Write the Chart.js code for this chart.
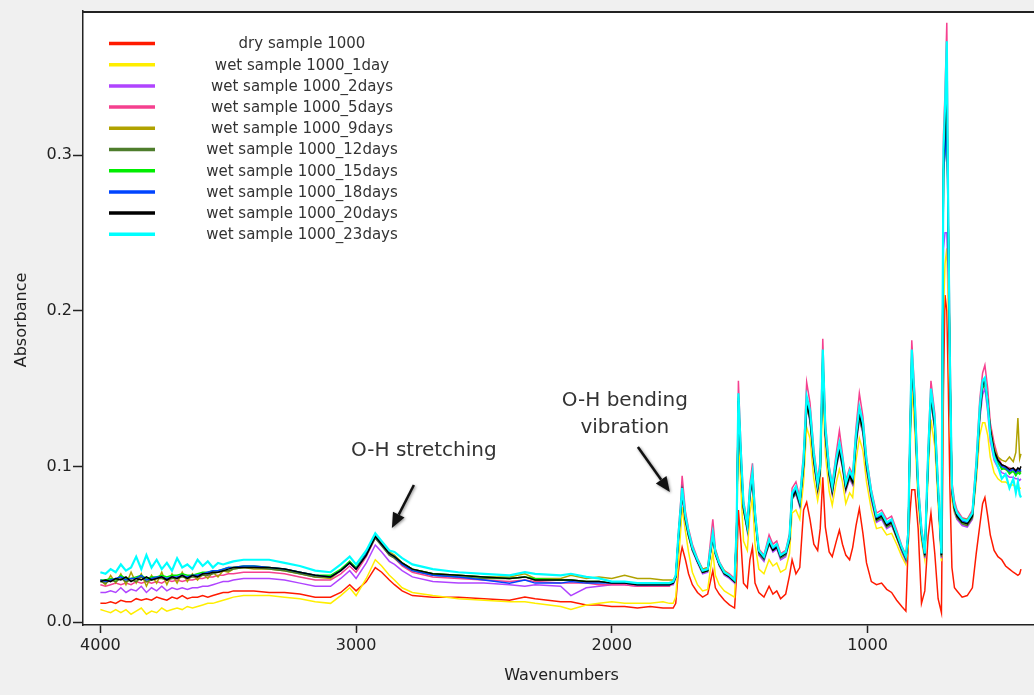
<!DOCTYPE html>
<html>
<head>
<meta charset="utf-8">
<script src="https://cdn.jsdelivr.net/npm/chart.js@4"></script>
<style>
  html, body { margin: 0; padding: 0; background: #f0f0f0; overflow: hidden; }
  canvas { display: block; }
</style>
</head>
<body>
<canvas id="espectro" width="1034" height="695"></canvas>
<script>
// wavenumber grid shared by every spectrum (cm-1)
const wavenumbers = [
    4000, 3980, 3960, 3940, 3920, 3900, 3880, 3860, 3840, 3820,
    3800, 3780, 3760, 3740, 3720, 3700, 3680, 3660, 3640, 3620,
    3600, 3580, 3560, 3540, 3520, 3500, 3480, 3440, 3400, 3340,
    3280, 3220, 3160,
    3100, 3060, 3025, 3000, 2960, 2925, 2900, 2870, 2850, 2820,
    2780, 2700, 2600, 2500, 2400, 2340, 2300, 2200, 2160, 2100,
    2050, 2000, 1950, 1900, 1850, 1800, 1775,
    1760, 1750, 1740, 1730, 1725, 1712, 1700, 1685, 1665, 1645,
    1625, 1605, 1595, 1580, 1560, 1540, 1520, 1512, 1505, 1495,
    1485, 1470, 1460, 1450, 1440, 1425, 1405, 1385, 1370, 1355,
    1340, 1320, 1305, 1295, 1280, 1265, 1250, 1238, 1225, 1210,
    1195, 1185, 1175, 1165, 1150, 1138, 1122, 1110, 1098, 1085,
    1070, 1058, 1045, 1032, 1018, 1004, 985, 965, 945, 925,
    906, 886, 866, 850, 841, 834, 827, 815, 802, 789,
    776, 763, 752, 737, 724, 711, 703, 697, 690, 684,
    678, 670, 660, 650, 630, 610, 590, 575, 561, 550,
    541, 530, 520, 505, 490, 475, 460, 445, 430, 420,
    412, 405, 400
];

const drySample = [
    .012, .012, .013, .012, .014, .013, .013, .015, .014, .015,
    .014, .016, .015, .014, .016, .015, .017, .015, .016, .016,
    .017, .016, .017, .018, .019, .019, .020, .020, .020, .019,
    .019, .018, .016,
    .016, .019, .024, .020, .026, .035, .032, .027, .024, .020,
    .017, .016, .016, .015, .014, .016, .015, .013, .013, .011,
    .011, .010, .010, .009, .010, .009, .009,
    .009, .012, .032, .044, .048, .040, .031, .024, .019, .016,
    .018, .033, .022, .018, .014, .011, .009, .030, .072, .051,
    .025, .022, .040, .048, .025, .019, .016, .023, .018, .020,
    .015, .018, .030, .040, .031, .035, .072, .077, .066, .050,
    .046, .060, .093, .061, .045, .042, .052, .059, .050, .043,
    .040, .048, .062, .073, .057, .038, .026, .024, .025, .021,
    .019, .014, .010, .007, .050, .070, .085, .085, .060, .012,
    .020, .055, .070, .044, .015, .006, .150, .210, .200, .150,
    .087, .035, .022, .020, .016, .017, .022, .044, .062, .076,
    .080, .068, .056, .046, .042, .040, .036, .034, .032, .031,
    .030, .031, .034
];

const wet1day = [
    .008, .007, .006, .008, .006, .008, .005, .007, .009, .005,
    .007, .006, .009, .007, .008, .009, .008, .010, .009, .010,
    .011, .012, .012, .013, .014, .015, .016, .017, .017, .017,
    .016, .015, .013,
    .012, .017, .022, .017, .028, .040, .036, .030, .027, .022,
    .019, .017, .015, .014, .013, .013, .012, .010, .008, .011,
    .012, .013, .012, .012, .012, .013, .012,
    .012, .016, .038, .060, .074, .058, .045, .032, .024, .020,
    .021, .045, .030, .024, .020, .018, .016, .045, .125, .085,
    .052, .046, .070, .080, .050, .034, .031, .040, .036, .038,
    .032, .034, .044, .070, .072, .066, .090, .125, .118, .092,
    .078, .088, .150, .108, .084, .075, .090, .098, .090, .076,
    .083, .080, .104, .118, .110, .090, .072, .060, .061, .056,
    .057, .050, .042, .037, .050, .105, .150, .122, .076, .052,
    .040, .094, .130, .113, .076, .039, .200, .230, .240, .200,
    .140, .078, .070, .066, .063, .062, .066, .090, .120, .128,
    .128, .120, .106, .096, .092, .090, .090, .088, .088, .087,
    .087, .086, .086
];

const wet2days = [
    .019, .019, .020, .019, .022, .019, .021, .020, .023, .019,
    .022, .020, .023, .020, .022, .021, .022, .021, .022, .022,
    .023, .023, .024, .025, .026, .026, .027, .028, .028, .028,
    .027, .025, .023,
    .023, .028, .033, .028, .038, .0495, .045, .039, .037, .033,
    .029, .026, .025, .025, .024, .023, .024, .023, .017, .022,
    .023, .024, .024, .023, .024, .024, .024,
    .024, .028, .051, .071, .081, .064, .055, .046, .038, .031,
    .032, .054, .043, .036, .030, .028, .025, .056, .140, .102,
    .072, .058, .080, .091, .066, .043, .039, .050, .045, .047,
    .040, .042, .052, .079, .082, .074, .099, .138, .129, .102,
    .084, .095, .166, .118, .093, .082, .099, .109, .099, .084,
    .092, .088, .113, .130, .121, .098, .078, .064, .066, .060,
    .062, .054, .045, .039, .054, .112, .165, .133, .082, .055,
    .041, .102, .142, .123, .082, .041, .240, .250, .250, .220,
    .150, .082, .071, .066, .062, .061, .066, .094, .130, .146,
    .150, .135, .116, .104, .099, .096, .095, .093, .093, .092,
    .092, .091, .092
];

const wet5days = [
    .024, .023, .024, .025, .024, .025, .024, .026, .025, .026,
    .025, .026, .025, .027, .026, .027, .026, .027, .027, .028,
    .028, .029, .029, .030, .030, .031, .031, .032, .032, .032,
    .031, .029, .027,
    .027, .031, .036, .032, .042, .054, .049, .043, .041, .036,
    .032, .029, .028, .027, .026, .027, .026, .025, .025, .025,
    .024, .024, .024, .023, .023, .023, .023,
    .025, .030, .057, .079, .094, .071, .060, .050, .041, .034,
    .035, .066, .047, .039, .033, .031, .028, .063, .155, .112,
    .078, .064, .089, .102, .072, .047, .043, .056, .050, .052,
    .044, .046, .057, .086, .090, .080, .109, .154, .141, .111,
    .091, .104, .182, .129, .100, .089, .109, .123, .108, .091,
    .099, .095, .125, .147, .132, .106, .085, .070, .072, .066,
    .068, .059, .049, .043, .059, .124, .181, .146, .090, .061,
    .045, .112, .155, .134, .090, .045, .313, .340, .385, .267,
    .183, .090, .078, .072, .067, .066, .072, .104, .143, .160,
    .165, .150, .128, .115, .106, .101, .100, .099, .098, .098,
    .097, .097, .097
];

const wet9days = [
    .027, .024, .030, .025, .031, .024, .032, .025, .031, .023,
    .030, .025, .032, .024, .031, .025, .032, .026, .031, .027,
    .031, .028, .032, .029, .033, .032, .034, .035, .034, .034,
    .033, .031, .029,
    .028, .033, .039, .034, .044, .056, .051, .045, .043, .038,
    .034, .031, .030, .029, .029, .031, .028, .028, .030, .028,
    .029, .028, .030, .028, .028, .027, .027,
    .027, .030, .054, .074, .084, .067, .057, .048, .040, .034,
    .035, .056, .046, .038, .033, .030, .027, .059, .145, .106,
    .075, .061, .084, .095, .069, .046, .042, .052, .047, .049,
    .043, .045, .054, .082, .086, .077, .103, .143, .134, .106,
    .088, .099, .172, .123, .097, .086, .103, .113, .103, .088,
    .096, .092, .118, .136, .126, .103, .082, .068, .070, .064,
    .066, .056, .048, .042, .056, .117, .172, .139, .086, .058,
    .044, .106, .148, .128, .086, .044, .295, .320, .350, .252,
    .168, .086, .075, .070, .066, .066, .070, .098, .136, .153,
    .156, .143, .125, .112, .106, .104, .103, .106, .103, .109,
    .131, .105, .108
];

const wet12days = [
    .026, .025, .027, .026, .028, .026, .027, .026, .029, .026,
    .027, .028, .028, .027, .028, .028, .029, .028, .029, .029,
    .030, .030, .031, .032, .033, .033, .034, .035, .035, .034,
    .033, .031, .029,
    .029, .033, .038, .034, .043, .054, .049, .043, .041, .037,
    .033, .030, .029, .028, .028, .029, .027, .027, .027, .026,
    .026, .025, .025, .024, .024, .024, .024,
    .025, .029, .052, .072, .082, .065, .055, .046, .039, .032,
    .033, .054, .044, .037, .031, .029, .026, .057, .140, .103,
    .072, .059, .081, .092, .067, .044, .040, .050, .046, .048,
    .041, .043, .052, .079, .083, .075, .100, .138, .130, .103,
    .085, .096, .166, .120, .094, .083, .100, .110, .100, .085,
    .093, .089, .115, .131, .122, .099, .080, .065, .067, .061,
    .063, .054, .046, .040, .054, .113, .166, .134, .083, .056,
    .042, .103, .143, .124, .083, .042, .285, .305, .330, .245,
    .162, .083, .072, .067, .063, .062, .067, .096, .132, .150,
    .153, .140, .122, .108, .102, .099, .098, .096, .097, .095,
    .097, .096, .097
];

const wet15days = [
    .027, .027, .028, .027, .030, .028, .028, .029, .030, .028,
    .029, .029, .030, .029, .030, .030, .031, .030, .030, .031,
    .032, .032, .033, .033, .034, .035, .035, .036, .036, .035,
    .034, .032, .030,
    .030, .034, .039, .035, .044, .055, .050, .044, .042, .038,
    .034, .031, .030, .029, .028, .029, .028, .027, .027, .026,
    .026, .025, .025, .025, .025, .025, .025,
    .025, .029, .054, .073, .084, .066, .057, .047, .039, .032,
    .033, .056, .044, .037, .031, .029, .026, .058, .143, .105,
    .074, .060, .083, .094, .068, .045, .041, .052, .047, .049,
    .042, .044, .054, .081, .085, .076, .102, .141, .132, .105,
    .087, .098, .170, .122, .096, .085, .102, .112, .102, .087,
    .095, .091, .117, .134, .125, .102, .081, .066, .068, .062,
    .064, .056, .047, .041, .056, .116, .170, .137, .085, .058,
    .043, .105, .146, .127, .085, .043, .292, .318, .345, .250,
    .165, .085, .073, .068, .064, .064, .068, .097, .134, .151,
    .154, .141, .122, .109, .103, .098, .099, .095, .097, .094,
    .096, .095, .096
];

const wet18days = [
    .027, .026, .027, .028, .029, .027, .028, .028, .030, .027,
    .028, .029, .029, .028, .029, .029, .030, .029, .030, .030,
    .031, .032, .033, .033, .034, .035, .035, .036, .036, .035,
    .034, .032, .030,
    .029, .033, .038, .034, .044, .055, .050, .044, .042, .037,
    .033, .030, .029, .027, .025, .027, .025, .025, .026, .025,
    .025, .025, .025, .024, .024, .024, .024,
    .025, .029, .054, .074, .084, .067, .057, .047, .039, .033,
    .034, .056, .045, .037, .032, .029, .027, .059, .144, .106,
    .074, .061, .083, .094, .069, .045, .041, .052, .047, .049,
    .042, .044, .054, .081, .085, .076, .103, .142, .133, .106,
    .087, .098, .171, .122, .096, .085, .103, .113, .103, .087,
    .095, .091, .118, .135, .125, .102, .081, .067, .069, .063,
    .065, .056, .047, .041, .056, .117, .171, .138, .085, .058,
    .043, .106, .147, .127, .085, .043, .290, .300, .320, .245,
    .166, .085, .074, .069, .065, .064, .069, .098, .135, .152,
    .155, .142, .123, .110, .104, .100, .099, .097, .098, .096,
    .098, .097, .098
];

const wet20days = [
    .026, .027, .026, .028, .027, .029, .026, .028, .027, .029,
    .027, .028, .029, .027, .029, .028, .030, .028, .030, .029,
    .031, .031, .032, .032, .033, .034, .035, .035, .035, .035,
    .034, .032, .030,
    .029, .033, .038, .034, .043, .055, .050, .044, .042, .038,
    .034, .031, .030, .029, .028, .029, .027, .027, .027, .026,
    .026, .025, .025, .024, .024, .024, .024,
    .025, .029, .053, .073, .083, .066, .056, .047, .039, .032,
    .033, .055, .044, .037, .031, .029, .026, .058, .142, .104,
    .073, .060, .082, .093, .068, .045, .041, .051, .046, .048,
    .042, .044, .053, .080, .084, .076, .101, .140, .131, .104,
    .086, .097, .168, .121, .095, .084, .101, .111, .101, .086,
    .094, .090, .116, .133, .124, .101, .081, .066, .068, .062,
    .064, .055, .047, .041, .055, .115, .168, .136, .084, .057,
    .043, .104, .145, .126, .084, .043, .290, .315, .340, .250,
    .165, .085, .073, .068, .064, .063, .068, .097, .134, .152,
    .155, .142, .124, .110, .104, .101, .100, .098, .099, .097,
    .099, .098, .100
];

const wet23days = [
    .032, .031, .034, .032, .037, .033, .035, .042, .034, .043,
    .035, .040, .034, .038, .033, .041, .035, .037, .034, .040,
    .036, .039, .035, .038, .037, .038, .039, .040, .040, .040,
    .038, .036, .033,
    .032, .037, .042, .037, .046, .057, .052, .046, .045, .041,
    .037, .034, .032, .031, .030, .032, .031, .030, .031, .029,
    .028, .026, .026, .025, .025, .025, .025,
    .026, .030, .055, .075, .086, .068, .058, .048, .040, .033,
    .034, .057, .045, .038, .032, .030, .027, .060, .147, .108,
    .076, .062, .085, .096, .070, .046, .042, .053, .048, .050,
    .043, .045, .055, .083, .087, .078, .105, .145, .136, .108,
    .089, .100, .175, .125, .098, .087, .105, .115, .105, .089,
    .097, .093, .120, .138, .128, .104, .083, .068, .070, .064,
    .066, .057, .048, .042, .057, .119, .175, .141, .087, .059,
    .044, .108, .150, .130, .087, .044, .303, .330, .373, .256,
    .170, .087, .075, .070, .066, .065, .070, .100, .138, .155,
    .157, .140, .120, .106, .100, .092, .095, .086, .092, .083,
    .090, .082, .080
];

const seriesLabels = [
    'dry sample 1000',
    'wet sample 1000_1day',
    'wet sample 1000_2days',
    'wet sample 1000_5days',
    'wet sample 1000_9days',
    'wet sample 1000_12days',
    'wet sample 1000_15days',
    'wet sample 1000_18days',
    'wet sample 1000_20days',
    'wet sample 1000_23days'
];
const seriesValues = [drySample, wet1day, wet2days, wet5days, wet9days,
    wet12days, wet15days, wet18days, wet20days, wet23days];
const seriesColors = ['#ff1a00', '#ffee00', '#b044ff', '#f5408f', '#b0a200',
    '#4e7d2c', '#00ee00', '#0044ff', '#000000', '#00ffff'];

const xTicks = [4000, 3000, 2000, 1000];
const yTicks = [0, 0.1, 0.2, 0.3];

const fuente = '"DejaVu Sans", "Liberation Sans", sans-serif';

const toPoints = (valores) => wavenumbers.map((w, i) => ({ x: w, y: valores[i] }));

// flecha con punta rellena, coordenadas en pixeles
const flecha = (ctx, x1, y1, x2, y2) => {
    const ang = Math.atan2(y2 - y1, x2 - x1);
    const largo = 15, ancho = 6.5;
    const bx = x2 - largo * Math.cos(ang), by = y2 - largo * Math.sin(ang);
    ctx.beginPath();
    ctx.moveTo(x1, y1);
    ctx.lineTo(bx, by);
    ctx.stroke();
    ctx.beginPath();
    ctx.moveTo(x2, y2);
    ctx.lineTo(bx + ancho * Math.sin(ang), by - ancho * Math.cos(ang));
    ctx.lineTo(bx - ancho * Math.sin(ang), by + ancho * Math.cos(ang));
    ctx.closePath();
    ctx.fill();
};

const marco = {
    id: 'marco',
    beforeDraw(chart) {
        const { ctx, chartArea: a } = chart;
        ctx.save();
        ctx.fillStyle = '#f0f0f0';
        ctx.fillRect(0, 0, chart.width, chart.height);
        ctx.fillStyle = '#ffffff';
        ctx.fillRect(a.left, a.top, a.right - a.left, a.bottom - a.top);
        ctx.restore();
    },
    afterDraw(chart) {
        const { ctx, chartArea: a, scales } = chart;
        const sx = scales.x, sy = scales.y;
        ctx.save();

        // borde superior del area de trazado
        ctx.strokeStyle = '#222';
        ctx.lineWidth = 2;
        ctx.beginPath();
        ctx.moveTo(a.left, a.top + 1);
        ctx.lineTo(a.right, a.top + 1);
        ctx.stroke();

        // leyenda dentro del grafico
        ctx.font = '15px ' + fuente;
        ctx.textAlign = 'center';
        ctx.textBaseline = 'middle';
        seriesLabels.forEach((nombre, i) => {
            const y = a.top + 32.5 + i * 21.2;
            ctx.strokeStyle = seriesColors[i];
            ctx.lineWidth = 3.5;
            ctx.beginPath();
            ctx.moveTo(a.left + 26, y);
            ctx.lineTo(a.left + 72, y);
            ctx.stroke();
            ctx.fillStyle = '#333';
            ctx.fillText(nombre, a.left + 219, y + 1);
        });

        // anotaciones
        ctx.fillStyle = '#333';
        ctx.font = '20px ' + fuente;
        ctx.fillText('O-H stretching', sx.getPixelForValue(2735), sy.getPixelForValue(0.110));
        ctx.fillText('O-H bending', sx.getPixelForValue(1949), sy.getPixelForValue(0.142));
        ctx.fillText('vibration', sx.getPixelForValue(1949), sy.getPixelForValue(0.1246));

        ctx.strokeStyle = '#111';
        ctx.fillStyle = '#111';
        ctx.lineWidth = 2.5;
        ctx.shadowColor = 'rgba(0,0,0,0.45)';
        ctx.shadowBlur = 3;
        ctx.shadowOffsetX = 1;
        ctx.shadowOffsetY = 1;
        flecha(ctx, sx.getPixelForValue(2774), sy.getPixelForValue(0.088),
            sx.getPixelForValue(2860), sy.getPixelForValue(0.0604));
        flecha(ctx, sx.getPixelForValue(1898), sy.getPixelForValue(0.1124),
            sx.getPixelForValue(1773), sy.getPixelForValue(0.0835));
        ctx.shadowColor = 'transparent';

        // titulos de los ejes
        ctx.fillStyle = '#222';
        ctx.font = '16px ' + fuente;
        ctx.fillText('Wavenumbers', (a.left + 1040) / 2, 676);
        ctx.translate(22, (a.top + a.bottom) / 2 + 2);
        ctx.rotate(-Math.PI / 2);
        ctx.fillText('Absorbance', 0, 0);
        ctx.restore();
    }
};

const grafica = () => {
    const ctx = document.getElementById('espectro').getContext('2d');
    new Chart(ctx, {
        type: 'line',
        data: {
            datasets: seriesValues.map((valores, i) => ({
                label: seriesLabels[i],
                data: toPoints(valores),
                borderColor: seriesColors[i],
                borderWidth: i === seriesValues.length - 1 ? 2.2 : 1.5,
                pointRadius: 0,
                tension: 0,
                fill: false,
                order: seriesValues.length - i
            }))
        },
        options: {
            responsive: false,
            animation: false,
            devicePixelRatio: 1,
            layout: { padding: { top: 11, right: 0, left: 0, bottom: 0 } },
            plugins: { legend: { display: false }, tooltip: { enabled: false } },
            scales: {
                x: {
                    type: 'linear',
                    reverse: true,
                    min: 349,
                    max: 4068,
                    afterFit: (s) => { s.height = 70; },
                    afterBuildTicks: (s) => { s.ticks = xTicks.map(v => ({ value: v })); },
                    grid: { drawOnChartArea: false, drawTicks: true, tickLength: 8, tickColor: '#222', tickWidth: 1.5 },
                    border: { display: true, color: '#222', width: 1.5 },
                    ticks: {
                        color: '#222',
                        padding: 3,
                        maxRotation: 0,
                        font: { family: fuente, size: 16 },
                        callback: (v) => String(v)
                    }
                },
                y: {
                    type: 'linear',
                    min: -0.0019,
                    max: 0.3925,
                    afterFit: (s) => { s.width = 83; },
                    afterBuildTicks: (s) => { s.ticks = yTicks.map(v => ({ value: v })); },
                    grid: { drawOnChartArea: false, drawTicks: true, tickLength: 10, tickColor: '#222', tickWidth: 1.5 },
                    border: { display: true, color: '#222', width: 1.5 },
                    ticks: {
                        color: '#222',
                        padding: 1,
                        font: { family: fuente, size: 16 },
                        callback: (v) => Number(v).toFixed(1)
                    }
                }
            }
        },
        plugins: [marco]
    });
};

window.onload = function () {
    grafica();
};
</script>
</body>
</html>
